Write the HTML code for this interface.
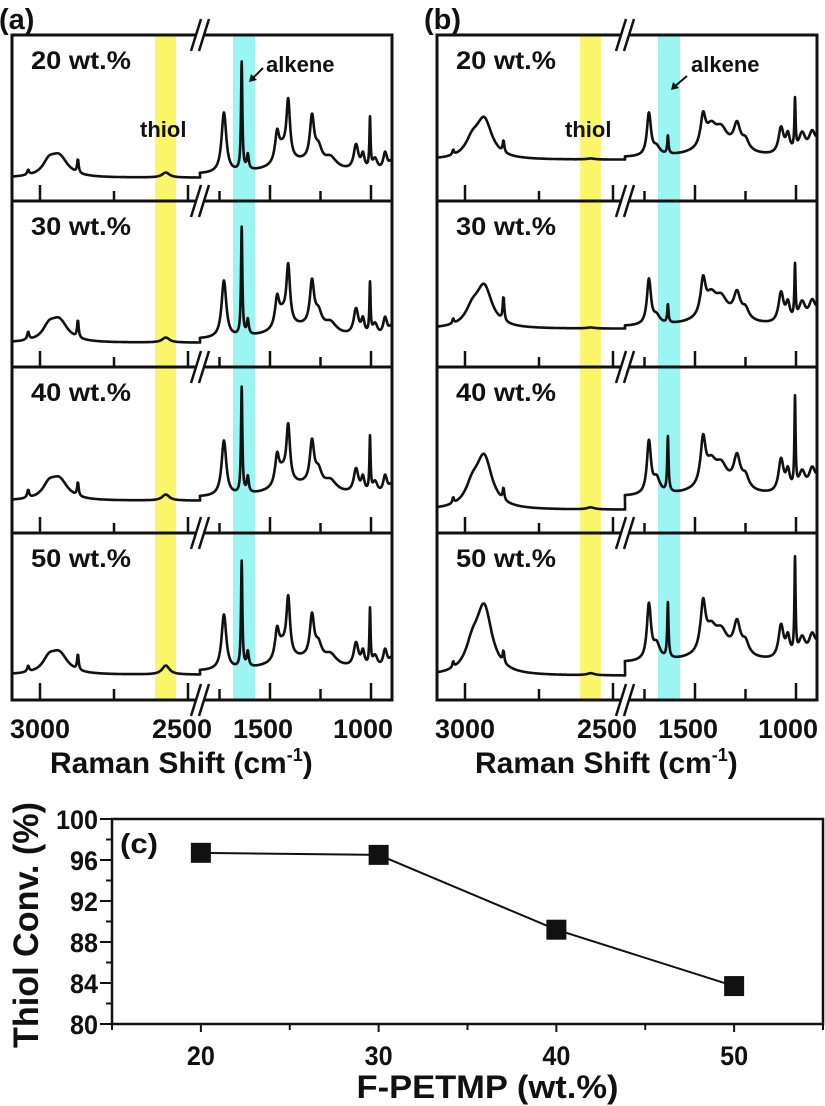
<!DOCTYPE html>
<html><head><meta charset="utf-8"><style>
html,body{margin:0;padding:0;background:#fff;}
svg{display:block;font-family:"Liberation Sans",Arial,sans-serif;font-weight:bold;}
</style></head><body>
<svg id="fig" width="825" height="1106" viewBox="0 0 825 1106" xmlns="http://www.w3.org/2000/svg"></svg>
<script>
// ---------- Data: Raman spectra (peak model) ----------
const spectrumLabels = ["20 wt.%", "30 wt.%", "40 wt.%", "50 wt.%"];
const peakCentersA = [3040, 2970, 2935, 2872, 2575, 1728, 1640, 1610, 1465, 1440, 1410, 1292, 1260, 1200, 1074, 1040, 1005, 980, 930, 900, 1350];
const peakWidthsA  = [4, 25, 35, 3, 15, 14, 4, 6, 12, 25, 11, 13, 20, 35, 14, 10, 3.5, 15, 12, 15, 160];
const heightsA20 = [5, 12, 20, 14, 5, 60, 108, 15, 28, 14, 58, 44, 15, 10, 25, 15, 50, 12, 18, 10, 12];
const heightsA30 = [8, 12, 21, 18, 5, 57, 108, 15, 28, 14, 58, 44, 15, 10, 26, 15, 50, 12, 18, 10, 12];
const heightsA40 = [8, 12, 20, 14, 6, 55, 106, 16, 28, 14, 56, 42, 15, 10, 24, 15, 54, 12, 18, 10, 12];
const heightsA50 = [6, 12, 20, 16, 9, 55, 106, 15, 28, 14, 58, 42, 15, 10, 24, 15, 56, 12, 18, 10, 12];
const baseA = [143, 142, 134, 142];
const offsetRightA = [3, 3, 3, 3];

const peakCentersB = [3040, 2975, 2935, 2870, 2575, 1728, 1690, 1634, 1460, 1420, 1370, 1292, 1250, 1074, 1040, 1005, 970, 920, 880, 1380];
const peakWidthsB  = [3, 28, 32, 3, 15, 12, 20, 4, 15, 30, 35, 20, 20, 15, 12, 3.5, 20, 20, 20, 130];
const heightsB20 = [5, 15, 38, 12, 1, 42, 8, 18, 30, 18, 16, 24, 10, 26, 18, 50, 20, 20, 18, 10];
const heightsB30 = [5, 15, 40, 25, 1, 45, 8, 18, 35, 18, 16, 24, 10, 30, 18, 53, 20, 20, 18, 10];
const heightsB40 = [6, 18, 50, 12, 2, 52, 15, 55, 45, 20, 18, 30, 12, 33, 20, 90, 20, 22, 20, 10];
const heightsB50 = [6, 22, 65, 12, 2, 55, 15, 55, 47, 20, 18, 30, 12, 33, 20, 95, 20, 22, 20, 10];
const baseB = [125, 128, 143, 143];
const offsetRightB = [2, 2, 13, 13];

// ---------- Data: Thiol conversion ----------
const convX = [20, 30, 40, 50];
const convY = [96.7, 96.5, 89.2, 83.7];
const convYTicks = [80, 84, 88, 92, 96, 100];
const convXTicks = [20, 30, 40, 50];
const ramanTickLabels = ["3000", "2500", "1500", "1000"];
const ramanTickVals = [3000, 2500, 1500, 1000];

const NS = "http://www.w3.org/2000/svg";
const svg = document.getElementById("fig");
function mk(tag, attrs, parent) {
  const e = document.createElementNS(NS, tag);
  for (const k in attrs) e.setAttribute(k, attrs[k]);
  (parent || svg).appendChild(e);
  return e;
}
function txt(str, attrs, parent) { const t = mk("text", attrs, parent); t.textContent = str; return t; }

const BREAK_X = 200;
function xRaman(w, off) {
  if (w >= 2000) return off + 40 + (3000 - w) * 148 / 500;
  return off + 270 + (1500 - w) * 101 / 500;
}
const L_START = 3095, L_END = 2459, R_START = 1847, R_END = 896;
const SUB_TOP = [35, 201, 367, 533];
const SUB_H = 166;

function intensity(w, centers, widths, heights) {
  let s = 0;
  for (let i = 0; i < centers.length; i++) {
    const d = (w - centers[i]) / widths[i];
    s += heights[i] / (1 + d * d);
  }
  return s;
}

function drawPanel(off, tag, centers, widths, heightSets, bases, offsets, showAlkeneOnPeak) {
  const g = mk("g", {});
  
  
  const left = off + 12, right = off + 392, top = 35, bottom = 700;
  const yb = mk("rect", {x: xRaman(2611, off), y: top, width: xRaman(2541, off) - xRaman(2611, off), height: bottom - top, fill: "#fbf56a"}, g);
  
  
  const cb = mk("rect", {x: xRaman(1683, off), y: top, width: xRaman(1574, off) - xRaman(1683, off), height: bottom - top, fill: "#9af5f3"}, g);
  
  

  for (let s = 0; s < 4; s++) {
    const t0 = SUB_TOP[s];
    const yMap = v => t0 + bases[s] - v;
    let d = "";
    for (let w = L_START; w >= L_END; w -= 2) {
      const v = intensity(w, centers, widths, heightSets[s]);
      d += (w === L_START ? "M" : "L") + xRaman(w, off).toFixed(1) + "," + yMap(v).toFixed(1);
    }
    for (let w = R_START; w >= R_END; w -= 1) {
      const v = intensity(w, centers, widths, heightSets[s]) + offsets[s];
      d += "L" + xRaman(w, off).toFixed(1) + "," + yMap(v).toFixed(1);
    }
    const p = mk("path", {d: d, fill: "none", stroke: "#111", "stroke-width": 2.6, "stroke-linejoin": "round"}, g);
    
    
    const lb = txt(spectrumLabels[s], {x: off + 31, y: t0 + 34, "font-size": 25, fill: "#111", textLength: 100, lengthAdjust: "spacingAndGlyphs"}, g);
    
    
    const yB = t0 + SUB_H;
    [[3000, 16], [2750, 10], [2500, 16], [1750, 10], [1500, 16], [1250, 10], [1000, 16]].forEach(tk => {
      const x = xRaman(tk[0], off);
      const l = mk("line", {x1: x, x2: x, y1: yB, y2: yB - tk[1], stroke: "#111", "stroke-width": 2.5}, g);
      
      
    });
    if (s < 3) {
      const sep = mk("line", {x1: left, x2: right, y1: yB, y2: yB, stroke: "#111", "stroke-width": 3}, g);
      
      
    }
  }
  const fr = mk("rect", {x: left, y: top, width: right - left, height: bottom - top, fill: "none", stroke: "#111", "stroke-width": 3}, g);
  
  
  [35, 201, 367, 533, 700].forEach(y => {
    const bx = off + BREAK_X;
    const wb = mk("rect", {x: bx - 4, y: y - 3, width: 9, height: 6, fill: "#fff"}, g);
    
    
    [-4, 4].forEach(dx => {
      const l = mk("line", {x1: bx + dx - 5, y1: y + 16, x2: bx + dx + 5, y2: y - 16, stroke: "#111", "stroke-width": 2.5}, g);
      
      
    });
  });
  for (let i = 0; i < ramanTickVals.length; i++) {
    let x = xRaman(ramanTickVals[i], off);
    if (ramanTickVals[i] === 2500) x -= 6;
    if (ramanTickVals[i] === 1500) x -= 7;
    if (ramanTickVals[i] === 1000) x -= 8;
    const t = txt(ramanTickLabels[i], {x: x, y: 738, "font-size": 27, "text-anchor": "middle", fill: "#111"}, g);
    
    
  }
  const at = txt("Raman Shift (cm", {x: off + 50, y: 773, "font-size": 30, fill: "#111"}, g);
  
  
  const sup = mk("tspan", {"font-size": 18, dy: -12}, at); sup.textContent = "-1";
  const cl = mk("tspan", {"font-size": 30, dy: 12}, at); cl.textContent = ")";
  const pl = txt("(" + tag + ")", {x: off - 1, y: 29, "font-size": 29, fill: "#111"}, g);
  
  
  const th = txt("thiol", {x: off + 140, y: 137, "font-size": 22, fill: "#111"}, g);
  
  
  const al = txt("alkene", {x: off + 266, y: 72, "font-size": 22, fill: "#111"}, g);
  
  
  const ax1 = showAlkeneOnPeak ? [off + 263, 68] : [off + 262, 76];
  const ax2 = showAlkeneOnPeak ? [off + 249, 82] : [off + 246, 90];
  const ar = mk("line", {x1: ax1[0], y1: ax1[1], x2: ax2[0] + 3, y2: ax2[1] - 3, stroke: "#111", "stroke-width": 2}, g);
  
  
  const ah = mk("polygon", {points: `${ax2[0]},${ax2[1]} ${ax2[0] + 2},${ax2[1] - 8} ${ax2[0] + 8},${ax2[1] - 2}`, fill: "#111"}, g);
  
  
}

drawPanel(0, "a", peakCentersA, peakWidthsA, [heightsA20, heightsA30, heightsA40, heightsA50], baseA, offsetRightA, true);
drawPanel(425, "b", peakCentersB, peakWidthsB, [heightsB20, heightsB30, heightsB40, heightsB50], baseB, offsetRightB, false);

// ---------- Panel (c) ----------
const cx0 = 112, cx1 = 823, cy0 = 1024, cy1 = 819;
const xC = v => cx0 + (v - 15) / 40 * (cx1 - cx0);
const yC = v => cy0 - (v - 80) / 20 * (cy0 - cy1);
const gc = mk("g", {});


const frc = mk("rect", {x: cx0, y: cy1, width: cx1 - cx0, height: cy0 - cy1, fill: "none", stroke: "#111", "stroke-width": 2.5}, gc);


for (let v = 80; v <= 100; v += 2) {
  const major = v % 4 === 0;
  const l = mk("line", {x1: cx0, x2: cx0 - (major ? 12 : 6), y1: yC(v), y2: yC(v), stroke: "#111", "stroke-width": 2}, gc);
  
  
}
convYTicks.forEach(v => {
  const t = txt(String(v), {x: cx0 - 14, y: yC(v) + 10, "font-size": 27, "text-anchor": "end", fill: "#111", textLength: v === 100 ? 42 : 28, lengthAdjust: "spacingAndGlyphs"}, gc);
  
  
});
for (let v = 15; v <= 55; v += 5) {
  const major = v % 10 === 0;
  const l = mk("line", {x1: xC(v), x2: xC(v), y1: cy0, y2: cy0 + (major ? 8 : 6), stroke: "#111", "stroke-width": 2}, gc);
  
  
}
convXTicks.forEach(v => {
  const t = txt(String(v), {x: xC(v), y: 1065, "font-size": 27, "text-anchor": "middle", fill: "#111", textLength: 28, lengthAdjust: "spacingAndGlyphs"}, gc);
  
  
});
let ld = "";
convX.forEach((v, i) => { ld += (i ? "L" : "M") + xC(v) + "," + yC(convY[i]); });
const cl = mk("path", {d: ld, fill: "none", stroke: "#111", "stroke-width": 2}, gc);


convX.forEach((v, i) => {
  const r = mk("rect", {x: xC(v) - 10, y: yC(convY[i]) - 10, width: 20, height: 20, fill: "#111"}, gc);
  
  
});
const pc = txt("(c)", {x: 120, y: 853, "font-size": 28, fill: "#111", textLength: 38, lengthAdjust: "spacingAndGlyphs"}, gc);


const xt = txt("F-PETMP (wt.%)", {x: (xC(30) + xC(40)) / 2 + 20, y: 1098, "font-size": 32, "text-anchor": "middle", fill: "#111", textLength: 262, lengthAdjust: "spacingAndGlyphs"}, gc);


const yt = txt("Thiol Conv. (%)", {x: 0, y: 0, "font-size": 35, "text-anchor": "middle", fill: "#111", textLength: 246, lengthAdjust: "spacingAndGlyphs", transform: "translate(38,925) rotate(-90)"}, gc);


</script>
</body></html>
